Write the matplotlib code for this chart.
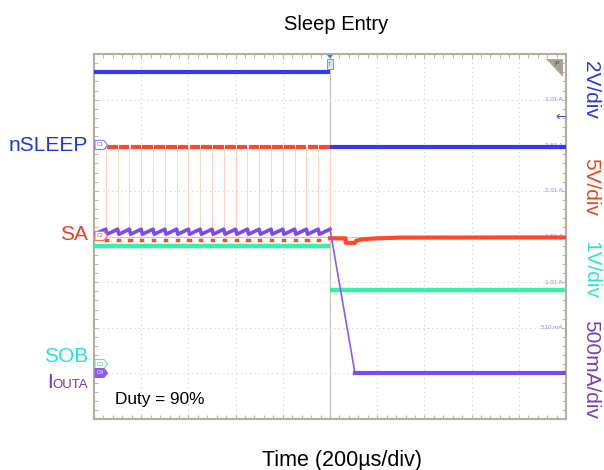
import numpy as np
import matplotlib
matplotlib.use("Agg")
import matplotlib.pyplot as plt
from matplotlib.patches import Polygon
from matplotlib.ticker import MultipleLocator

plt.rcParams['font.family'] = ['Liberation Sans', 'DejaVu Sans']

# ---------------- data read from the scope capture ----------------
time_window_us = [-1000, 1000]          # 200 us/div, 10 div, trigger at 0
trigger_us = 0

# SA PWM: start of each 5 us low pulse (20 kHz, 90 % duty)
sa_low_start_us = [-950, -900, -850, -800, -750, -700, -650, -600, -550, -500,
                   -450, -400, -350, -300, -250, -200, -150, -100, -50]
sa_low_width_us = 5
sa_high_v = 9.8
sa_low_v = -0.35
# SA after sleep entry
sa_after_t_us = [0, 66, 67, 105, 112, 140, 200, 300, 1000]
sa_after_v = [-0.2, -0.2, -0.7, -0.7, -0.45, -0.3, -0.2, -0.12, -0.1]

# nSLEEP
nsleep_high_v = 3.2
nsleep_low_v = -0.08

# SOB
sob_before_v = 2.60
sob_after_v = 1.63

# IOUTA sawtooth and decay
iout_valley_a = 1.525
iout_peak_a = 1.58
iout_after_t_us = [0, 106, 1000]
iout_after_a = [1.58, 0.0, 0.0]

# right-hand current readouts (A)
readout_labels = ["3.01 A", "2.51 A", "2.01 A", "1.51 A", "1.01 A", "510 mA", "10 mA"]
readout_values_a = [3.01, 2.51, 2.01, 1.51, 1.01, 0.51, 0.01]

# ---------------- channel settings ----------------
nsleep_scale, nsleep_gnd = 2.0, 6.0
sa_scale, sa_gnd = 5.0, 4.0
sob_scale, sob_gnd = 1.0, 1.2
iout_scale, iout_gnd = 0.5, 1.0

c_blue = '#3438f4'
c_red = '#ff4a2a'
c_green = '#36f0a6'
c_purple = '#7a4cf0'

W, H = 604, 470
fig = plt.figure(figsize=(W / 100, H / 100), dpi=100)
ax = fig.add_axes([94 / W, 1 - 419 / H, 472 / W, 365 / H])
ax.set_xlim(*time_window_us)
ax.set_ylim(0, 8)


def div(v, scale, gnd):
    return gnd + np.asarray(v, dtype=float) / scale


# grid
for x in range(-800, 1000, 200):
    if x == 0:
        ax.axvline(x, color='#c9c3b9', lw=0.9, zorder=1)
    else:
        ax.axvline(x, color='#cfcfcf', lw=0.8, ls=(0, (1, 3)), zorder=1)
for y in range(1, 8):
    if y == 4:
        ax.axhline(y, color='#d0cac0', lw=0.8, zorder=1)
    else:
        ax.axhline(y, color='#cfcfcf', lw=0.8, ls=(0, (1, 3)), zorder=1)

ax.xaxis.set_major_locator(MultipleLocator(200))
ax.xaxis.set_minor_locator(MultipleLocator(40))
ax.yaxis.set_major_locator(MultipleLocator(1))
ax.yaxis.set_minor_locator(MultipleLocator(0.2))
ax.tick_params(which='both', direction='in', length=3, width=0.8, color='#c0b8a8',
               top=True, right=True, labelbottom=False, labelleft=False)
for s in ax.spines.values():
    s.set_color('#b5ad9f')
    s.set_linewidth(1.5)

# readout labels (behind traces)
for lab, val in zip(readout_labels, readout_values_a):
    ax.text(985, div(val - 0.01, iout_scale, iout_gnd), lab, fontsize=4.5,
            color='#a47cf4', ha='right', va='center', zorder=2)

# ---- nSLEEP ----
ax.plot([time_window_us[0], trigger_us], div([nsleep_high_v] * 2, nsleep_scale, nsleep_gnd),
        color=c_blue, lw=3, solid_capstyle='butt', zorder=5)
ax.plot([trigger_us, time_window_us[1]], div([nsleep_low_v] * 2, nsleep_scale, nsleep_gnd),
        color=c_blue, lw=3, solid_capstyle='butt', zorder=5)

# ---- SA ----
starts = list(sa_low_start_us) + [trigger_us]
hi_t, hi_v = [], []
prev_end = time_window_us[0]
for s in starts:
    hi_t += [prev_end, s, np.nan]
    hi_v += [sa_high_v, sa_high_v, np.nan]
    prev_end = s + sa_low_width_us
hi_d = div(hi_v, sa_scale, sa_gnd)
for s in starts:
    ax.plot([s, s], div([sa_low_v, sa_high_v], sa_scale, sa_gnd), color='#ffd2c8', lw=0.7, zorder=3)
for s in sa_low_start_us:
    ax.plot([s, s + sa_low_width_us], div([sa_low_v] * 2, sa_scale, sa_gnd),
            color=c_red, lw=2.5, solid_capstyle='projecting', zorder=4)
ax.plot(hi_t, hi_d, color=c_red, lw=3, solid_capstyle='butt', zorder=4)
ax.plot(sa_after_t_us, div(sa_after_v, sa_scale, sa_gnd), color=c_red, lw=3, zorder=4)

# ---- SOB ----
ax.plot([time_window_us[0], trigger_us], div([sob_before_v] * 2, sob_scale, sob_gnd),
        color=c_green, lw=3.2, solid_capstyle='butt', zorder=4)
ax.plot([trigger_us, time_window_us[1]], div([sob_after_v] * 2, sob_scale, sob_gnd),
        color=c_green, lw=3.2, solid_capstyle='butt', zorder=4)

# ---- IOUTA ----
it, ia = [time_window_us[0]], [iout_valley_a]
for s in sa_low_start_us:
    it += [s, s + sa_low_width_us]
    ia += [iout_peak_a, iout_valley_a]
it += [trigger_us]
ia += [iout_peak_a]
ax.plot(it, div(ia, iout_scale, iout_gnd), color=c_purple, lw=2.6, zorder=6)
ax.plot(iout_after_t_us[:2], div(iout_after_a[:2], iout_scale, iout_gnd), color='#8a5cf4', lw=1.2, zorder=6)
ax.plot(iout_after_t_us[1:], div(iout_after_a[1:], iout_scale, iout_gnd), color=c_purple, lw=3, zorder=6)


# ---------------- decorations in pixel coordinates ----------------
def fx(x):
    return x / W


def fy(y):
    return 1 - y / H


def ftext(x, y, s, **kw):
    fig.text(fx(x), fy(y), s, **kw)


def marker(y, edge, face, tc, lab):
    pts = [(95, y - 4.5), (104, y - 4.5), (107.5, y), (104, y + 4.5), (95, y + 4.5)]
    fig.add_artist(Polygon([(fx(a), fy(b)) for a, b in pts], closed=True,
                           transform=fig.transFigure, facecolor=face, edgecolor=edge,
                           lw=0.8, zorder=10))
    ftext(100.5, y, lab, fontsize=4, color=tc, ha='center', va='center', zorder=11)


marker(145, '#7c80f0', 'white', '#5a60e0', 'C1')
marker(236, '#ff7050', 'white', '#f05030', 'C2')
marker(364, '#70e0b0', 'white', '#40c090', 'C3')
marker(373, '#8a5cf4', '#8a5cf4', 'white', 'C4')

# trigger marker
fig.add_artist(Polygon([(fx(327), fy(55)), (fx(333), fy(55)), (fx(330), fy(58.5))],
                       transform=fig.transFigure, facecolor='#3a80d0', edgecolor='none', zorder=10))
fig.add_artist(Polygon([(fx(327), fy(59)), (fx(333), fy(59)), (fx(333), fy(69)), (fx(327), fy(69))],
                       transform=fig.transFigure, facecolor='#d8e8f8', edgecolor='#6aa0d8', lw=0.7, zorder=10))
ftext(330, 64, 'T', fontsize=4, color='#3a70b0', ha='center', va='center', zorder=11)

# top-right corner triangle
fig.add_artist(Polygon([(fx(546), fy(59)), (fx(563), fy(59)), (fx(563), fy(77))],
                       transform=fig.transFigure, facecolor='#aaa293', edgecolor='none', zorder=10))
ftext(557, 64, 'P', fontsize=5, color='#4a4438', ha='center', va='center', zorder=11)

# blue offset arrow on the right edge
ftext(561, 117, '\u2190', fontsize=9, color='#3a50e0', ha='center', va='center',
      family=['DejaVu Sans'], zorder=11)

# titles
ftext(336, 30, 'Sleep Entry', fontsize=14.5, ha='center', va='baseline', color='black')
ftext(342.5, 466, 'Time (200\u00b5s/div)', fontsize=15.5, ha='center', va='baseline', color='black')
ftext(115, 404, 'Duty = 90%', fontsize=12.4, ha='left', va='baseline', color='black')

# left channel names
ftext(88, 151, 'nSLEEP', fontsize=15, color='#2236d8', ha='right', va='baseline')
ftext(88, 240, 'SA', fontsize=15, color='#e8431f', ha='right', va='baseline')
ftext(88, 362, 'SOB', fontsize=15, color='#22e6d0', ha='right', va='baseline')
ftext(88, 387.5, 'OUTA', fontsize=9.5, color='#7236b8', ha='right', va='baseline')
ftext(53, 387.5, 'I', fontsize=15, color='#7236b8', ha='right', va='baseline')

# right scale labels
ftext(591, 90, '2V/div', fontsize=15, color='#2a3ad8', ha='center', va='center', rotation=-90)
ftext(591, 187, '5V/div', fontsize=15, color='#e8461e', ha='center', va='center', rotation=-90)
ftext(591, 270, '1V/div', fontsize=15, color='#2ee6c8', ha='center', va='center', rotation=-90)
ftext(591, 370, '500mA/div', fontsize=15, color='#7a3fb6', ha='center', va='center', rotation=-90)

fig.savefig('out.png', dpi=100)
